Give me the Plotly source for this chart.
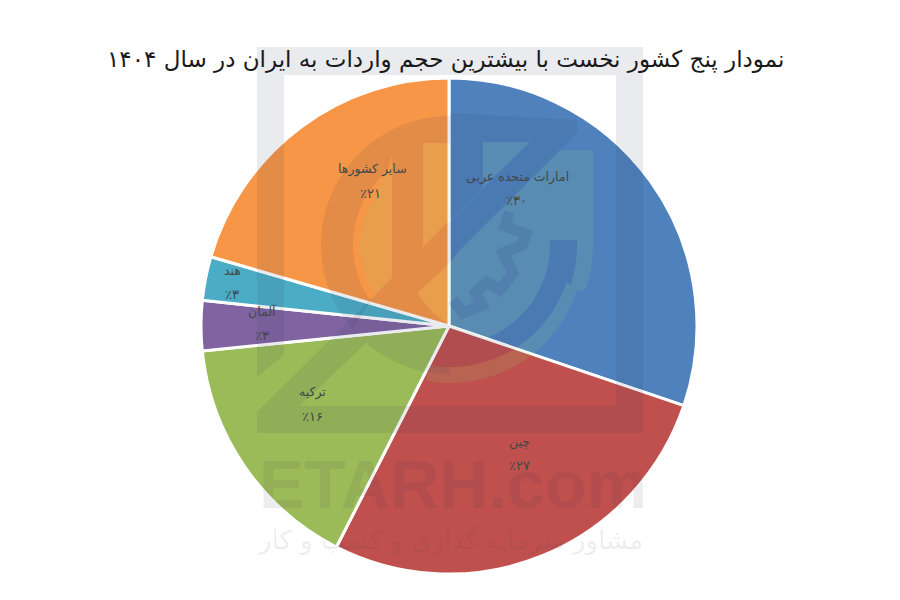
import numpy as np
import plotly.graph_objects as go

TITLE = "نمودار پنج کشور نخست با بیشترین حجم واردات به ایران در سال ۱۴۰۴"
countries = ["امارات متحده عربی", "چین", "ترکیه", "آلمان", "هند", "سایر کشورها"]
shares = [30.2, 27.3, 15.9, 3.25, 2.85, 20.5]
share_labels = ["٪۳۰", "٪۲۷", "٪۱۶", "٪۳", "٪۳", "٪۲۱"]
colors = ["#4F81BD", "#C0504D", "#9BBB59", "#8064A2", "#4BACC6", "#F79646"]
name_xy = [(517, 177), (519, 442), (312, 392), (262, 311), (232, 270), (372, 169)]
pct_xy = [(516, 201), (519, 466), (312, 416), (262, 335), (232, 294), (370, 193)]

W, H = 900, 600
FONT = "DejaVu Sans"
def px(x, y):
    return x / W, 1 - y / H

fig = go.Figure(go.Pie(
    values=shares, labels=countries, sort=False, direction="clockwise", rotation=0,
    marker=dict(colors=colors, line=dict(color="white", width=3)),
    textinfo="none", hoverinfo="skip", showlegend=False,
    domain=dict(x=[201 / W, 697 / W], y=[1 - 574 / H, 1 - 78 / H]),
))

def path(points, close=True):
    s = "M " + " L ".join(f"{px(x,y)[0]:.5f},{px(x,y)[1]:.5f}" for x, y in points)
    return s + (" Z" if close else "")

def arc(cx, cy, r, a0, a1, n=60):
    t = np.radians(np.linspace(a0, a1, n))
    return [(cx + r * np.sin(a), cy - r * np.cos(a)) for a in t]

DARK = "rgba(50,60,90,0.10)"
LIGHT = "rgba(150,205,120,0.15)"
shapes = []
def add(points, color=DARK):
    shapes.append(dict(type="path", path=path(points), xref="paper", yref="paper",
                       fillcolor=color, line=dict(width=0), layer="above"))

CX, CY = 450, 245
# frame: top, right, bottom, left bar
add([(257, 47), (643, 47), (643, 75), (257, 75)])
add([(616, 75), (643, 75), (643, 406), (616, 406)])
add([(257, 412), (263, 406), (643, 406), (643, 433), (257, 433)])
add([(257, 75), (284, 75), (284, 355), (257, 377)])

# light panels (orange side)
add([(392, 160), (392, 278), (372, 298)] + arc(CX, CY, 90, 235, 290), LIGHT)
add([(423, 143), (450, 143), (450, 220), (423, 247)], LIGHT)
add([(450, 263), (450, 325), (432, 312), (417, 293)], LIGHT)
# light panels (blue side) and outer halo
add([(483, 142), (530, 142), (483, 187)], LIGHT)
add([(560, 150), (593, 150), (593, 245)] + arc(CX, CY, 143, 90, 108) +
    arc(CX, CY + 5, 133, 108, 190) + arc(CX, CY, 122, 190, 108) +
    arc(CX, CY, 127, 108, 90) + [(577, 240), (550, 240)] + arc(CX, CY, 100, 90, 159) +
    [(450, 326), (450, 262), (460, 250)], LIGHT)

# dark logo: ring on the left
add(arc(CX, CY, 129, 229, 360) + [(450, 143), (392, 143), (392, 155)] + arc(CX, CY, 97, 320, 235) + [(372, 298)])
# bar and diagonal
add([(392, 143), (423, 143), (423, 247), (392, 278)])
add([(257, 412), (372, 298), (423, 247), (450, 220), (450, 263), (417, 293), (432, 312), (450, 326),
     (450, 374)] + arc(CX, CY, 129, 180, 220) + [(367, 342), (300, 406), (263, 406)])
# dark logo: blue side
add([(450, 113), (577, 120), (577, 133), (460, 250), (450, 262), (450, 222), (530, 142), (483, 142), (483, 187), (450, 220)])
# C-shaped ring, right and bottom
add([(550, 240), (577, 240)] + arc(CX, CY, 127, 90, 108) + arc(CX, CY, 122, 108, 180) + [(450, 326)] + arc(CX, CY, 100, 159, 90))
# gear zigzag
gear = [(510, 212), (505, 226), (526, 234), (522, 245), (503, 253), (513, 273), (500, 290), (487, 282),
        (475, 293), (482, 305), (463, 313), (453, 300)]
shapes.append(dict(type="path", xref="paper", yref="paper", layer="above",
                   path=path(gear, close=False),
                   line=dict(color="rgba(50,70,140,0.16)", width=11), fillcolor="rgba(0,0,0,0)"))

ann = []
def txt(x, y, s, size, color, font=FONT, weight=None):
    ax, ay = px(x, y)
    f = dict(family=font, size=size, color=color)
    if weight:
        f["weight"] = weight
    ann.append(dict(x=ax, y=ay, xref="paper", yref="paper", text=s, showarrow=False,
                    xanchor="center", yanchor="middle", font=f))

for (nx, ny), name in zip(name_xy, countries):
    txt(nx, ny, name, 12.5, "#404848")
for (qx, qy), p in zip(pct_xy, share_labels):
    txt(qx, qy, p, 13, "#404848")
txt(445, 60, TITLE, 23, "#1a1a1a")
txt(453, 484, "ETARH.com", 68, "rgba(50,60,80,0.09)", font="Liberation Sans, Arial", weight=700)
txt(450, 540, "مشاور سرمایه گذاری و کسب و کار", 26, "rgba(50,60,80,0.09)")

fig.update_layout(shapes=shapes, annotations=ann, width=W, height=H,
                  margin=dict(l=0, r=0, t=0, b=0), paper_bgcolor="white", plot_bgcolor="white")
fig.write_html("out.html", post_script="document.body.style.margin='0';",
               config=dict(displayModeBar=False))
